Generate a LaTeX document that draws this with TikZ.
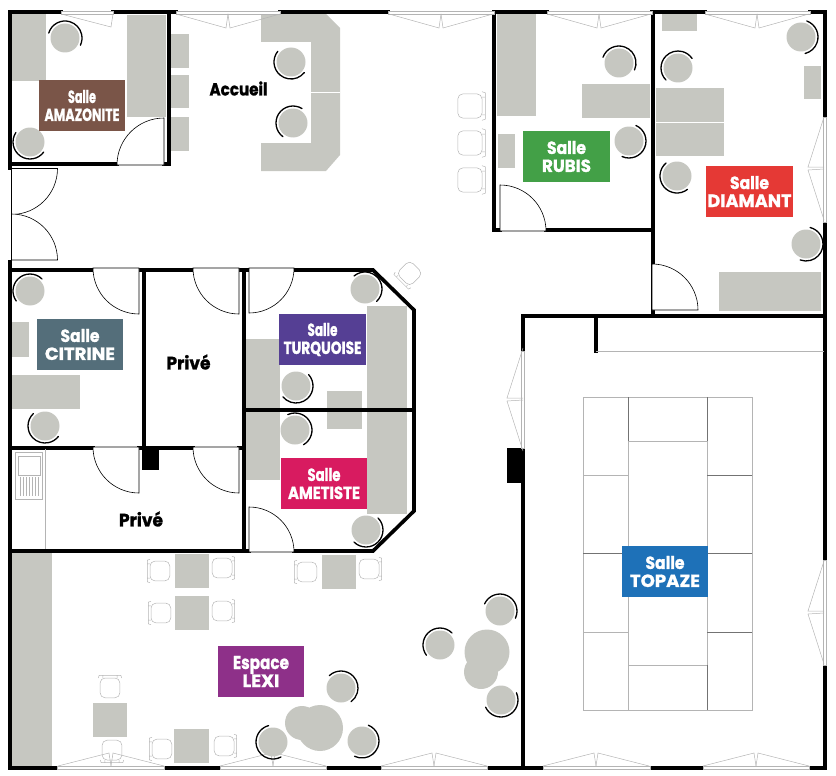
\documentclass[tikz,border=0pt]{standalone}
\usepackage{fontspec}
\setmainfont{Poppins}[BoldFeatures={FakeBold=1.2}]
\usepackage{graphicx}
\usetikzlibrary{calc,positioning}
\definecolor{meuble}{HTML}{C6C7C1}
\definecolor{fenetre}{HTML}{B4B4B4}
% deux lignes d'etiquette : largeurs relevees sur le plan
\newcommand{\etiq}[4]{\resizebox{#1pt}{13pt}{#2}\\\resizebox{#3pt}{12.5pt}{#4}}
\tikzset{
    mur/.style={line width=3.6pt, line cap=rect},
    meubleplat/.style={fill=meuble, draw=none},
    siege/.style={circle, fill=meuble, minimum size=29pt, inner sep=0pt},
    dossier/.style={line width=1.3pt, line cap=round},
    porte/.style={draw=black, fill=white, line width=0.6pt},
    baie/.style={draw=fenetre, line width=0.5pt},
    trait/.style={draw=fenetre, line width=0.6pt},
    traitfonce/.style={draw=black!55, line width=0.6pt},
    salle/.style={minimum width=86.5pt, minimum height=51pt, inner sep=0pt, align=center, text=white,
        font=\bfseries\fontsize{12}{18}\selectfont},
    nompiece/.style={font=\bfseries\fontsize{13}{16}\selectfont},
    pics/fauteuil/.style={code={
        \draw[baie, rounded corners=5pt] (-12,-11) rectangle (10,11);
        \draw[baie] (10,-13) -- (13,-12) -- (13,12) -- (10,13) (10,-8) -- (13,-8) (10,8) -- (13,8);
    }}
}
\begin{document}
\begin{tikzpicture}[x=1pt, y=-1pt]
    \useasboundingbox (0,0) rectangle (836,776);

    % meubles
    \foreach \xa/\ya/\xb/\yb in {12/14/46/81, 127/15/166/117, 171/34/189/68, 171/75/189/108, 171/117/189/151,
        497/14/536/116, 582/84/650/118, 498/134/515/168, 662/14/697/31, 804/66/821/99, 656/88/724/122, 656/123/724/156,
        719/272/821/311, 12/322/29/357, 12/375/80/409, 246/339/280/408, 367/306/407/408, 327/391/362/429,
        246/412/280/480, 367/412/407/514, 12/552/52/766, 175/554/209/588, 175/596/209/630, 322/555/356/589,
        93/703/127/737, 174/729/209/763}
        \fill[meubleplat] (\xa,\ya) rectangle (\xb,\yb);
    \fill[meubleplat] (261,14) -- (326,14) -- (340,28) -- (340,155) -- (326,171) -- (261,171) -- (261,143)
        -- (311,143) -- (311,42) -- (261,42) -- cycle;
    \draw[white, line width=0.7pt] (311,92) -- (340,92);
    \foreach \cx/\cy/\r in {487/652/22.5, 481/672/17, 320/728/23, 302/723/17}
        \fill[meubleplat] (\cx,\cy) circle[radius=\r pt];

    % murs
    \draw[mur] (10,12) -- (61,12) (113,12) -- (176,12) (280,12) -- (388,12) (494,12) -- (547,12)
        (652,12) -- (705,12) (810,12) -- (825,12);
    \draw[mur] (10,768) -- (57,768) (164,768) -- (220,768) (326,768) -- (381,768) (487,768) -- (543,768)
        (650,768) -- (703,768) (809,768) -- (825,768);
    \draw[mur] (10,12) -- (10,168) (10,262) -- (10,768);
    \draw[mur] (825,12) -- (825,117) (825,222) -- (825,560) (825,665) -- (825,768);
    \draw[mur] (169,12) -- (169,164) (10,164) -- (117,164) (164,164) -- (169,164);
    \draw[mur] (494,12) -- (494,230) -- (500,230) (546,230) -- (653,230);
    \draw[mur] (653,12) -- (653,316);
    \draw[mur] (523,316) -- (825,316) (523,316) -- (523,351) (523,448) -- (523,768) (596,316) -- (596,351);
    \draw[mur] (10,270) -- (93,270) (139,270) -- (193,270) (239,270) -- (249,270) (294,270) -- (373,270)
        -- (414,310) -- (414,511) -- (373,551) -- (294,551) (249,551) -- (10,551);
    \draw[mur] (144,270) -- (144,448) (244,270) -- (244,551) (244,410) -- (414,410);
    \draw[mur] (10,448) -- (93,448) (139,448) -- (193,448) (239,448) -- (244,448);
    \draw[trait] (596,351.5) -- (824,351.5);
    \fill (142,449) rectangle (159,470);
    \fill (507,448) rectangle (525,483);

    % baies vitrees
    \foreach \xa/\xb in {61/113, 176/280, 388/494, 547/652, 705/810}
        \draw[baie, fill=white] (\xa,11) rectangle (\xb,14);
    \foreach \xa/\xb in {57/164, 220/326, 381/487, 543/650, 703/809}
        \draw[baie, fill=white] (\xa,766.5) rectangle (\xb,769.5);
    \foreach \ya/\yb in {117/222, 560/665}
        \draw[baie, fill=white] (823.5,\ya) rectangle (826.5,\yb);
    \draw[baie, fill=white] (521.5,351) rectangle (524.5,448);
    \draw[baie] (61,14) -- (111,27) -- (113,14);
    \foreach \xm in {228, 441, 599, 757} {
        \draw[baie] (\xm-52,14) -- (\xm-2,28) -- (\xm,14);
        \draw[baie] (\xm+52,14) -- (\xm+2,28) -- (\xm,14);
    }
    \foreach \xm in {111, 273, 434, 596, 756} {
        \draw[baie] (\xm-53,766) -- (\xm-2,753) -- (\xm,766);
        \draw[baie] (\xm+53,766) -- (\xm+2,753) -- (\xm,766);
    }
    \foreach \xb/\ym in {808/168, 808/612, 507/399} {
        \draw[baie] (\xb+16,\ym-51) -- (\xb,\ym-1) -- (\xb+16,\ym-1);
        \draw[baie] (\xb+16,\ym+52) -- (\xb,\ym+2) -- (\xb+16,\ym+1);
    }

    % portes
    \draw[porte] (164,165) -- (164,118) arc[start angle=90, end angle=180, radius=47pt] -- cycle;
    \draw[porte] (11.5,168.5) -- (57.5,168.5) arc[start angle=0, end angle=-90, radius=46pt] -- cycle;
    \draw[porte] (11.5,260) -- (57.5,260) arc[start angle=0, end angle=90, radius=46pt] -- cycle;
    \foreach \xh/\yh in {139/268, 239/268, 139/447, 239/447}
        \draw[porte] (\xh,\yh) -- (\xh,\yh+46) arc[start angle=270, end angle=180, radius=46pt] -- cycle;
    \draw[porte] (249,268) -- (249,313) arc[start angle=270, end angle=360, radius=45pt] -- cycle;
    \draw[porte] (249,552) -- (249,507) arc[start angle=90, end angle=0, radius=45pt] -- cycle;
    \draw[porte] (500,231) -- (500,185) arc[start angle=90, end angle=0, radius=46pt] -- cycle;
    \draw[porte] (652,310) -- (652,264) arc[start angle=90, end angle=0, radius=46pt] -- cycle;

    % tables de la salle topaze
    \draw[trait] (583,397) rectangle (752,710);
    \draw[trait] (628,441) -- (628,710) (707,441) -- (707,397) (628,441) -- (707,441) (628,665) -- (707,665);
    \draw[trait] (583,475) -- (628,475) (583,632) -- (628,632) (707,441) -- (707,710);
    \draw[traitfonce] (628,397) -- (628,441) (707,397) -- (707,441) (707,665) -- (707,710);
    \draw[traitfonce] (583,553) -- (628,553) (707,475) -- (752,475) (707,553) -- (752,553) (707,632) -- (752,632);

    % evier
    \draw[trait] (15,452) rectangle (42,499) (18,456) rectangle (40,475) (45.5,449) -- (45.5,549);
    \foreach \xv in {20,23,...,38}
        \draw[baie] (\xv,477) -- (\xv,496);

    % fauteuils
    \foreach \cx/\cy/\rot/\sc in {471/106/0/1.1, 471/143/0/1.1, 471/180/0/1.1, 159/571/180/.9, 223/568/0/.9,
        160/613/180/.9, 223/611/0/.9, 306/572/180/.9, 370/569/0/.9, 110/687/90/.9, 112/751/-90/.9,
        161/749/180/.9, 225/746/0/.9, 409/274/225/.85}
        \pic[rotate=\rot, scale=\sc] at (\cx,\cy) {fauteuil};

    % sieges
    \foreach \cx/\cy/\sa/\ea [count=\i] in {65/38/163/-25, 30/142/146/324, 291/62/141/322, 293/123/58/234,
        619/63/160/-24, 629/141/66/-114, 801/37/70/-76, 678/68/225/34, 677/176/130/308, 806/244/76/-110,
        30/291/45/216, 45/426/133/322, 365/289/130/-47, 296/386/42/-140, 295/430/115/-60, 366/530/45/-135,
        341/688/133/-54, 273/742/105/298, 362/741/68/-116, 440/645/45/217, 500/611/155/-25, 501/700/205/385} {
        \node[siege] (siege\i) at (\cx,\cy) {};
        \draw[dossier] (siege\i.center) ++(\sa:17pt) arc[start angle=\sa, end angle=\ea, radius=17pt];
    }

    % etiquettes
    \node[salle, fill={rgb,255:red,122;green,85;blue,72}] (amazonite) at (82,105.5) {\etiq{28}{Salle}{75}{AMAZONITE}};
    \node[salle, fill={rgb,255:red,67;green,160;blue,71}] (rubis) at (566.5,156.5) {\etiq{39}{Salle}{49}{RUBIS}};
    \node[salle, fill={rgb,255:red,229;green,57;blue,53}] (diamant) at (749.5,191.5) {\etiq{39}{Salle}{84}{DIAMANT}};
    \node[salle, fill={rgb,255:red,84;green,110;blue,122}] (citrine) at (80,344.5) {\etiq{39}{Salle}{70}{CITRINE}};
    \node[salle, fill={rgb,255:red,85;green,63;blue,148}] (turquoise) at (322.5,339.5) {\etiq{30}{Salle}{78}{TURQUOISE}};
    \node[salle, fill={rgb,255:red,216;green,27;blue,96}] (ametiste) at (324,483.5) {\etiq{33}{Salle}{72}{AMETISTE}};
    \node[salle, fill={rgb,255:red,142;green,48;blue,137}] (lexi) at (261,671.5) {\etiq{56}{Espace}{37}{LEXI}};
    \node[salle, fill={rgb,255:red,30;green,113;blue,184}] (topaze) at (665,571.5) {\etiq{39}{Salle}{70}{TOPAZE}};

    \node[nompiece] (accueil) at (238.5,88.5) {\resizebox{58pt}{14pt}{Accueil}};
    \node[nompiece] (prive1) at (188.5,362) {\resizebox{44pt}{15pt}{Privé}};
    \node[nompiece] (prive2) at (141,519) {\resizebox{44pt}{15pt}{Privé}};
\end{tikzpicture}
\end{document}
